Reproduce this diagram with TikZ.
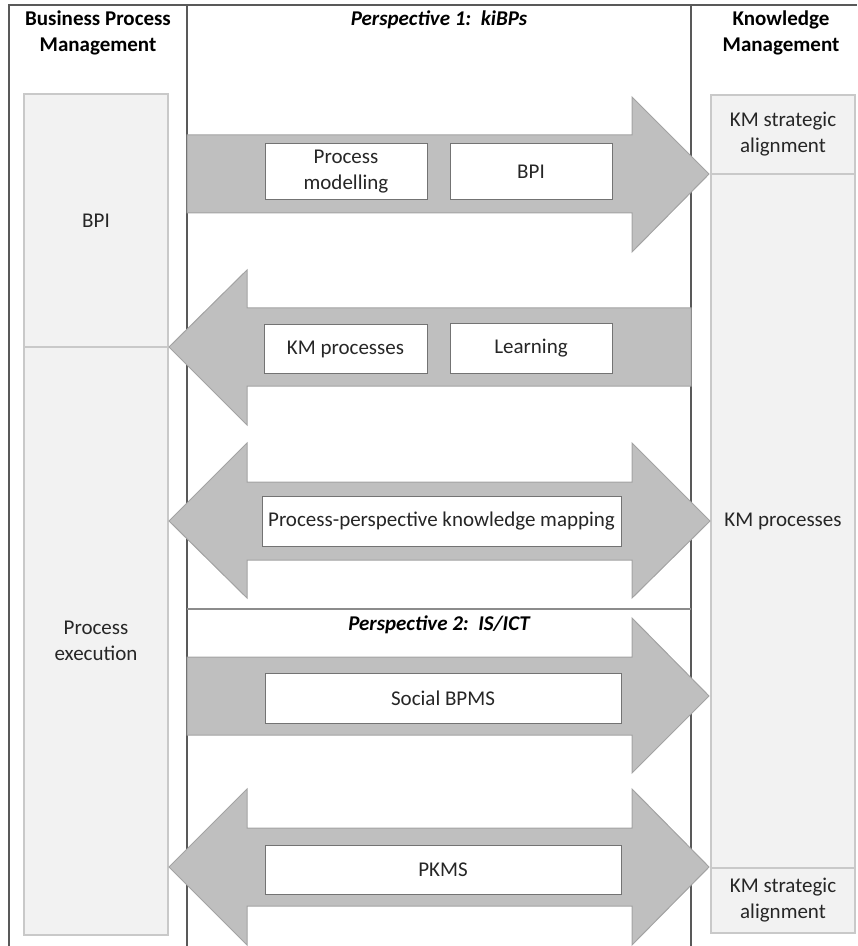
\documentclass[tikz,border=0pt]{standalone}
\usepackage{fontspec}
\setmainfont{Carlito}
\usetikzlibrary{positioning}
\newcommand{\diafont}{\fontsize{10.5pt}{13pt}\selectfont}
\definecolor{arrowfill}{HTML}{BFBFBF}
\definecolor{arrowline}{HTML}{A3A3A3}
\definecolor{colfill}{HTML}{F2F2F2}
\definecolor{colline}{HTML}{C9C9C9}
\tikzset{
  frameline/.style={line width=0.6pt, draw=black!65},
  sepline/.style={line width=1.1pt, draw=black!45},
  colbox/.style={draw=colline, line width=0.6pt, fill=colfill, minimum width=72pt, inner sep=0pt, outer sep=0pt, align=center, text=black!85},
  bigarrow/.style={draw=arrowline, line width=0.5pt, fill=arrowfill},
  labelbox/.style={draw=black!55, line width=0.5pt, fill=white, align=center, inner sep=0pt, outer sep=0pt, text=black!85},
  header/.style={align=center, font=\diafont\bfseries},
  persphead/.style={font=\diafont\bfseries\itshape},
}

\begin{document}
\begin{tikzpicture}[x=0.5pt, y=-0.5pt, every node/.append style={font=\diafont}]
  \useasboundingbox (0,0) rectangle (857,946);
  % frame
  \draw[frameline] (9,946) -- (9,5) -- (857,5);
  \draw[frameline] (187,5) -- (187,946);
  \draw[frameline] (691,5) -- (691,946);
  \draw[sepline] (187,609) -- (691,609);
  % headers
  \node[header] (bpmhead) at (98,33) {Business Process\\Management};
  \node[persphead] (p1head) at (439,20) {Perspective 1:\ \ kiBPs};
  \node[header] (kmhead) at (781,33) {Knowledge\\Management};
  \node[persphead] (p2head) at (439,625) {Perspective 2:\ \ IS/ICT};
  % BPM column
  \node[colbox, minimum height=126.5pt] (bpi) at (96,220.5) {BPI};
  \node[colbox, minimum height=294pt] (exec) at (96,641) {Process\\execution};
  % KM column
  \node[colbox, minimum height=39.5pt] (kmsa) at (783,134.5) {KM strategic\\alignment};
  \node[colbox, minimum height=347pt] (kmproc) at (783,521) {KM processes};
  \node[colbox, minimum height=32.5pt] (kmsb) at (783,900.5) {KM strategic\\alignment};
  % arrows
  \filldraw[bigarrow] (187,135) -- (632,135) -- (632,97) -- (709,174) -- (632,252) -- (632,213) -- (187,213) -- cycle;
  \filldraw[bigarrow] (691,308) -- (247,308) -- (247,270) -- (169,347) -- (247,425) -- (247,386) -- (691,386) -- cycle;
  \filldraw[bigarrow] (247,482) -- (632,482) -- (632,443) -- (710,521) -- (632,598) -- (632,560) -- (247,560) -- (247,598) -- (169,521) -- (247,443) -- cycle;
  \filldraw[bigarrow] (187,657) -- (632,657) -- (632,618) -- (709,696) -- (632,773) -- (632,735) -- (187,735) -- cycle;
  \filldraw[bigarrow] (247,828) -- (632,828) -- (632,789) -- (709,867) -- (632,945) -- (632,906) -- (247,906) -- (247,945) -- (169,867) -- (247,789) -- cycle;
  % labels on arrows
  \node[labelbox, minimum width=81pt, minimum height=28pt] (model) at (346,172) {Process\\modelling};
  \node[labelbox, minimum width=81pt, minimum height=28pt] (bpiimp) at (531,172) {BPI};
  \node[labelbox, minimum width=81.5pt, minimum height=24.5pt] (kmprocl) at (345.5,349) {KM processes};
  \node[labelbox, minimum width=81pt, minimum height=25pt] (learn) at (531,348.5) {Learning};
  \node[labelbox, minimum width=179.5pt, minimum height=25pt] (mapping) at (441.5,521) {Process-perspective knowledge mapping};
  \node[labelbox, minimum width=178pt, minimum height=25pt] (social) at (443,698) {Social BPMS};
  \node[labelbox, minimum width=178pt, minimum height=24.5pt] (pkms) at (443,869.5) {PKMS};
\end{tikzpicture}
\end{document}
